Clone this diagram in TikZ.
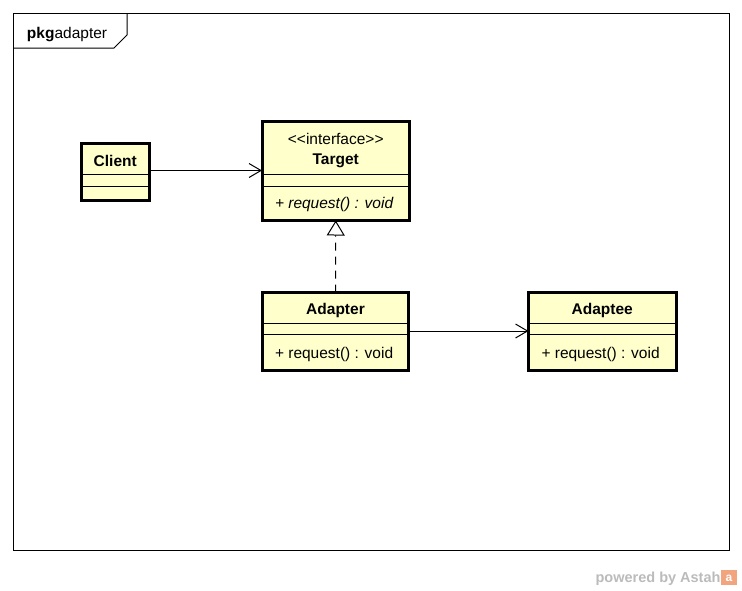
\documentclass[tikz,border=0pt]{standalone}
\usepackage{fontspec}
\setmainfont{Liberation Sans}
\usetikzlibrary{arrows.meta}
\definecolor{classfill}{HTML}{FFFFCC}
\definecolor{astahgray}{HTML}{BBBBBB}
\definecolor{astahorange}{HTML}{F2A47E}
\begin{document}
\begin{tikzpicture}[x=1pt,y=-1pt,
  every node/.style={inner sep=0pt,outer sep=0pt,font=\fontsize{15.5}{18}\selectfont},
  classbox/.style={draw=black,line width=3pt,fill=classfill,rectangle},
  sepline/.style={line width=1pt},
  frameline/.style={line width=1pt},
  classname/.style={font=\fontsize{15.5}{18}\selectfont\bfseries},
  member/.style={anchor=west},
  assoc/.style={line width=1pt,-{Straight Barb[length=12pt,width=14pt,line width=1pt]}},
  realize/.style={line width=1pt,dash pattern=on 8pt off 6pt,-{Triangle[open,length=15pt,width=18pt,line width=1pt]}}
]
\useasboundingbox (0,0) rectangle (742,590);
% package frame
\draw[frameline] (13.5,13.5) rectangle (729.5,550.5);
\draw[frameline] (13.5,48) -- (114,48) -- (127,35) -- (127,13.5);
\node[anchor=base west] (pkg) at (27,38.5) {\textbf{pkg}adapter};

% Client
\node[classbox,minimum width=67.5pt,minimum height=57.5pt] (client) at (115.25,171.75) {};
\node[classname] (clientname) at (115.25,161) {Client};
\draw[sepline] (81.5,174) -- (149,174);
\draw[sepline] (81.5,186) -- (149,186);

% Target
\node[classbox,minimum width=147.5pt,minimum height=99.5pt] (target) at (335.75,170.75) {};
\node (targetst) at (335.75,139) {<\kern0pt<interface>\kern0pt>};
\node[classname] (targetname) at (335.75,161) {Target};
\draw[sepline] (262,174) -- (409.5,174);
\draw[sepline] (262,186) -- (409.5,186);
\node[member] (targetop) at (275,204) {\itshape + request() : void};

% Adapter
\node[classbox,minimum width=146.5pt,minimum height=78pt] (adapter) at (335.5,331.5) {};
\node[classname] (adaptername) at (335.5,310) {Adapter};
\draw[sepline] (262.25,323) -- (408.75,323);
\draw[sepline] (262.25,334) -- (408.75,334);
\node[member] (adapterop) at (275,354) {+ request() : void};

% Adaptee
\node[classbox,minimum width=147.5pt,minimum height=78pt] (adaptee) at (602.25,331.5) {};
\node[classname] (adapteename) at (602.25,310) {Adaptee};
\draw[sepline] (528.5,323) -- (676,323);
\draw[sepline] (528.5,334) -- (676,334);
\node[member] (adapteeop) at (541.5,354) {+ request() : void};

% connectors
\draw[assoc] (client.east |- 0,170.5) -- (target.west |- 0,170.5);
\draw[realize] (adapter.north) -- (target.south);
\draw[assoc] (adapter.east |- 0,331) -- (adaptee.west |- 0,331);

% watermark
\node[anchor=base east,text=astahgray,font=\fontsize{14.5}{16}\selectfont\bfseries] (powered) at (720.5,582) {powered by Astah};
\fill[astahorange] (721,570) rectangle (737,585);
\node[text=white,font=\fontsize{12}{13}\selectfont\bfseries] (logo) at (729,578.5) {a};
\end{tikzpicture}
\end{document}
